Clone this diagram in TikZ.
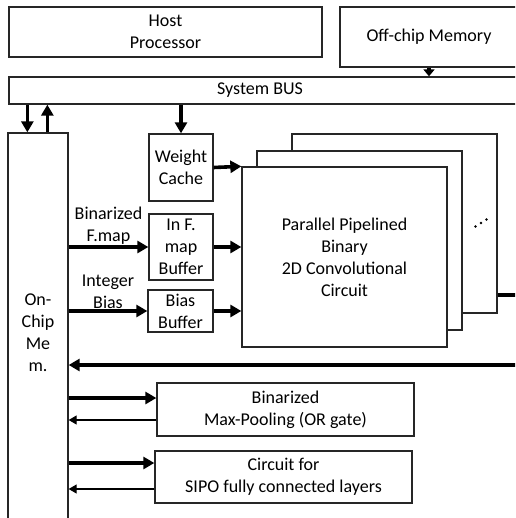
\documentclass[tikz,border=0pt]{standalone}
\usepackage{fontspec}
\setmainfont{Carlito}
\usetikzlibrary{arrows.meta,calc}
\begin{document}
\begin{tikzpicture}[x=1pt,y=-1pt,
  font=\fontsize{18}{22}\selectfont,
  box/.style={draw=black!85, line width=1.3pt, fill=white, inner sep=0pt, align=center},
  thk/.style={line width=3.6pt, -{Triangle[length=11pt,width=12pt]}},
  thks/.style={line width=3.4pt, -{Triangle[length=7pt,width=11pt]}},
  thn/.style={line width=1.2pt, -{Triangle[length=8pt,width=9pt]}},
  lbl/.style={align=center, inner sep=1pt}]
\useasboundingbox (0,0) rectangle (515,518);
\clip (0,0) rectangle (515,518);
% top
\node[box, minimum width=313pt, minimum height=50pt] (host) at (165.5,32) {Host\\Processor};
\node[box, minimum width=178pt, minimum height=60pt] (mem) at (429,37) {Off-chip Memory};
\node[box, minimum width=511pt, minimum height=27pt] (bus) at (264.5,90.5) {};
\node (bustxt) at (260,90.5) {System BUS};
% on-chip memory
\node[box, minimum width=60pt, minimum height=400pt] (onchip) at (38,333) {On-\\Chip\\Me\\m.};
% buffers
\node[box, minimum width=64pt, minimum height=67pt] (wc) at (181,167.5) {Weight\\Cache};
\node[box, minimum width=64pt, minimum height=66pt] (inf) at (181,247) {In F.\\map\\Buffer};
\node[box, minimum width=65pt, minimum height=42pt] (bb) at (180.5,311) {Bias\\Buffer};
% conv stack
\node[box, minimum width=205pt, minimum height=179pt] (conv3) at (394.5,223.5) {};
\node[box, minimum width=205pt, minimum height=179pt] (conv2) at (359.5,240.5) {};
\node[box, minimum width=205pt, minimum height=180pt] (conv1) at (344.5,257) {Parallel Pipelined\\Binary\\2D Convolutional\\Circuit};
\fill (475.5,226.5) circle (1.4pt) (481,223) circle (1.4pt) (486.5,219.5) circle (1.4pt);
% lower blocks
\node[box, minimum width=257pt, minimum height=53pt] (mp) at (285.5,409.5) {Binarized\\Max-Pooling (OR gate)};
\node[box, minimum width=257pt, minimum height=52pt] (sipo) at (283.5,477) {Circuit for\\SIPO fully connected layers};
% free ends
\coordinate (outR) at (520,295);
\coordinate (backR) at (520,365);
% connectors
\draw[thks] (mem.south) -- (mem.south |- bus.north);
\draw[thk] ([xshift=20pt]onchip.north west |- bus.south) -- ([xshift=20pt]onchip.north west);
\draw[thk] ([xshift=40pt]onchip.north west) -- ([xshift=40pt]onchip.north west |- bus.south);
\draw[thk] (wc.north |- bus.south) -- (wc.north);
\draw[thk] (wc.east) -- (conv1.north west);
\draw[thk] (inf.east) -- (conv1.west |- inf.east);
\draw[thk] (bb.east) -- (conv1.west |- bb.east);
\draw[thk] (onchip.east |- inf.east) -- node[lbl, above] {Binarized\\F.map} (inf.west);
\draw[thk] (onchip.east |- bb.west) -- node[lbl, above] {Integer\\Bias} (bb.west);
\draw[line width=3.6pt] (conv3.east |- outR) -- (outR);
\draw[thk] (backR) -- (onchip.east |- backR);
\draw[thk] (onchip.east |- 0,398) -- (mp.west |- 0,398);
\draw[thn] (mp.west |- 0,420) -- (onchip.east |- 0,420);
\draw[thk] (onchip.east |- 0,463) -- (sipo.west |- 0,463);
\draw[thn] (sipo.west |- 0,489) -- (onchip.east |- 0,489);
\end{tikzpicture}
\end{document}
